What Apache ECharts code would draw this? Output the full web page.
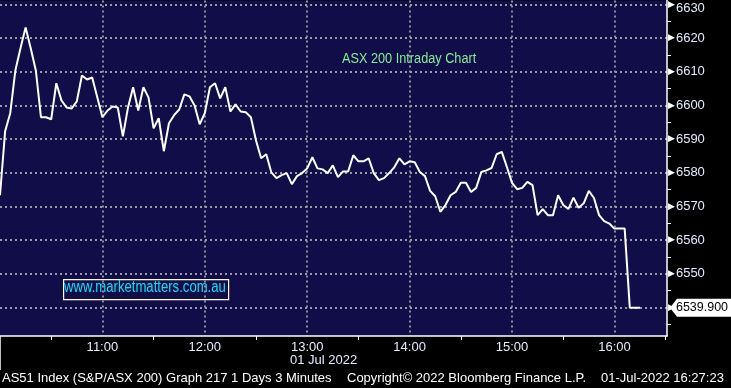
<!DOCTYPE html>
<html><head><meta charset="utf-8">
<script src="https://cdn.jsdelivr.net/npm/echarts@6/dist/echarts.min.js"></script>
<style>html,body{margin:0;padding:0;background:#000}#c{width:731px;height:388px}</style>
</head><body><div id="c"></div>
<script>
// ---- data ----
const startTime = '10:00';
const stepMinutes = 3; // 3-minute bars
const values = [
  6573.3, 6592.3, 6597.7, 6610.4, 6617.0, 6623.2, 6617.0, 6610.4, 6596.5, 6596.5,
  6595.9, 6606.6, 6601.5, 6599.4, 6599.1, 6601.2, 6608.9, 6607.7, 6608.3, 6602.4,
  6596.5, 6598.5, 6599.7, 6599.4, 6590.8, 6599.4, 6605.4, 6598.5, 6605.4, 6602.4,
  6593.2, 6596.2, 6586.4, 6594.7, 6597.1, 6598.8, 6603.3, 6602.7, 6600.0, 6594.4,
  6597.7, 6605.4, 6606.6, 6602.1, 6605.4, 6598.2, 6600.3, 6598.2, 6598.0, 6596.5,
  6589.6, 6584.3, 6585.5, 6580.1, 6578.4, 6579.3, 6579.9, 6576.6, 6579.0, 6579.9,
  6581.3, 6584.6, 6581.3, 6581.0, 6579.9, 6582.2, 6578.7, 6580.4, 6580.4, 6585.2,
  6583.4, 6583.4, 6584.3, 6579.9, 6577.8, 6578.4, 6579.9, 6581.6, 6584.3, 6582.5,
  6583.4, 6583.1, 6580.2, 6579.0, 6574.6, 6573.0, 6568.4, 6570.4, 6573.3, 6574.3,
  6577.0, 6577.0, 6574.3, 6575.5, 6580.2, 6580.7, 6581.4, 6585.5, 6586.2, 6581.7,
  6577.0, 6575.1, 6575.5, 6577.3, 6576.3, 6567.4, 6569.2, 6567.4, 6567.4, 6573.3,
  6570.4, 6569.2, 6572.6, 6569.6, 6570.9, 6574.6, 6572.5, 6567.4, 6565.6, 6564.9,
  6563.4, 6563.4, 6563.4, 6539.9, 6539.9, 6539.9
];
const yTickLabels = [6540, 6550, 6560, 6570, 6580, 6590, 6600, 6610, 6620, 6630];
const yMinorTicks = [6535, 6545, 6555, 6565, 6575, 6585, 6595, 6605, 6615, 6625];
const hourLabels = ['11:00', '12:00', '13:00', '14:00', '15:00', '16:00'];
const halfHourTicks = ['10:30', '11:30', '12:30', '13:30', '14:30', '15:30', '16:30'];
const sessionStart = ['10:00'];
const titleText = 'ASX 200 Intraday Chart';
const watermarkText = 'www.marketmatters.com.au';
const dateLabel = '01 Jul 2022';
const footerLeft = 'AS51 Index (S&P/ASX 200) Graph 217 1 Days 3 Minutes';
const footerMid = 'Copyright\u00a9 2022 Bloomberg Finance L.P.';
const footerRight = '01-Jul-2022 16:27:23';
const lastValueText = '6539.900';

// ---- helpers ----
function toMin(s) { const p = s.split(':'); return (+p[0]) * 60 + (+p[1]) - (parseInt(startTime) * 60); }
function toHHMM(m) { const t = Math.round(m) + parseInt(startTime) * 60; const h = Math.floor(t / 60), mm = t % 60; return String(h).padStart(2, '0') + ':' + String(mm).padStart(2, '0'); }

const xMin = 0, xMax = 390.8;
const yMin = 6531.48, yMax = 6631.19;
const seriesData = values.map((v, i) => [i * stepMinutes, v]);
const lastPoint = seriesData[seriesData.length - 1];

const FONT = '"Liberation Sans", Arial, sans-serif';
const LABEL_COLOR = '#e4eaff';
const BG = '#100d48';
const GRID_LINE = { color: '#9a9aa4', width: 1.8, type: [2, 3] };

const chart = echarts.init(document.getElementById('c'), null, { renderer: 'canvas' });
const hidden = { show: false };
const hiddenLine = { show: false, onZero: false };

chart.setOption({
  backgroundColor: '#000',
  animation: false,
  grid: { left: 0, right: 64, top: 0, bottom: 52, show: true, backgroundColor: BG, borderWidth: 0 },
  xAxis: [
    {
      type: 'value', min: xMin, max: xMax, interval: 60, position: 'bottom',
      axisLine: { show: true, onZero: false, lineStyle: { color: '#fff', width: 1.5 } },
      axisTick: { show: false, customValues: hourLabels.map(toMin) },
      axisLabel: { customValues: hourLabels.map(toMin), formatter: v => toHHMM(v), color: LABEL_COLOR, fontSize: 13, fontFamily: FONT, margin: 5 },
      splitLine: { show: true, lineStyle: GRID_LINE }
    },
    {
      type: 'value', min: xMin, max: xMax, position: 'bottom',
      axisLine: hiddenLine, axisLabel: hidden, splitLine: hidden,
      axisTick: { show: true, customValues: halfHourTicks.map(toMin), length: 4, lineStyle: { color: '#fff', width: 1 } }
    },
    {
      type: 'value', min: xMin, max: xMax, position: 'bottom',
      axisLine: hiddenLine, axisLabel: hidden, splitLine: hidden,
      axisTick: { show: true, customValues: sessionStart.map(toMin), length: 34, lineStyle: { color: '#fff', width: 1.5 } }
    }
  ],
  yAxis: [
    {
      type: 'value', min: yMin, max: yMax, position: 'right',
      axisLine: { show: true, onZero: false, lineStyle: { color: '#fff', width: 1.5 } },
      axisTick: { show: false, customValues: yTickLabels },
      axisLabel: {
        customValues: yTickLabels, margin: 1,
        formatter: v => (v === yTickLabels[yTickLabels.length - 1] ? '{t|\u25B6}{top|' + v + '}' : '{t|\u25B6}{v|' + v + '}'),
        rich: {
          t: { color: '#fff', fontSize: 9, fontFamily: '"DejaVu Sans"' },
          v: { color: LABEL_COLOR, fontSize: 13, fontFamily: FONT, padding: [0, 0, 0, 1] },
          top: { color: LABEL_COLOR, fontSize: 13, fontFamily: FONT, padding: [8, 0, 0, 1] }
        }
      },
      splitLine: { show: true, lineStyle: GRID_LINE }
    },
    {
      type: 'value', min: yMin, max: yMax, position: 'right',
      axisLine: hiddenLine, axisLabel: hidden, splitLine: hidden,
      axisTick: { show: true, customValues: yMinorTicks, length: 4, lineStyle: { color: '#fff', width: 1 } }
    }
  ],
  series: [{
    type: 'line', xAxisIndex: 0, yAxisIndex: 0, data: seriesData,
    showSymbol: false, symbol: 'none', clip: false,
    lineStyle: { color: '#fff', width: 2 },
    markPoint: {
      silent: true,
      symbol: 'path://M0,9 L7,0 L62,0 L62,18 L7,18 Z',
      symbolSize: [62, 18], symbolKeepAspect: false,
      symbolOffset: [34, 0],
      itemStyle: { color: '#fff' },
      label: { show: true, position: 'inside', formatter: lastValueText, color: '#000', fontSize: 12.5, fontFamily: FONT, offset: [1, 0] },
      data: [{ coord: [xMax, lastPoint[1]] }]
    }
  }],
  graphic: [
    { type: 'text', x: 342, y: 51, scaleX: 0.82, style: { text: titleText, fill: '#86ec93', font: '15.5px ' + FONT } },
    { type: 'rect', left: 63, top: 279, shape: { width: 165, height: 20 }, style: { fill: BG, stroke: '#fff', lineWidth: 1.2 } },
    { type: 'text', x: 64, y: 280, scaleX: 0.82, style: { text: watermarkText, fill: '#13e0f5', font: '16px ' + FONT } },
    { type: 'text', left: 290, top: 354, style: { text: dateLabel, fill: LABEL_COLOR, font: '13px ' + FONT } },
    { type: 'text', left: 2, top: 372, style: { text: footerLeft, fill: '#fff', font: '13px ' + FONT } },
    { type: 'text', left: 347, top: 372, style: { text: footerMid, fill: '#fff', font: '13px ' + FONT } },
    { type: 'text', left: 601, top: 372, style: { text: footerRight, fill: '#fff', font: '13px ' + FONT } }
  ]
});
</script></body></html>
